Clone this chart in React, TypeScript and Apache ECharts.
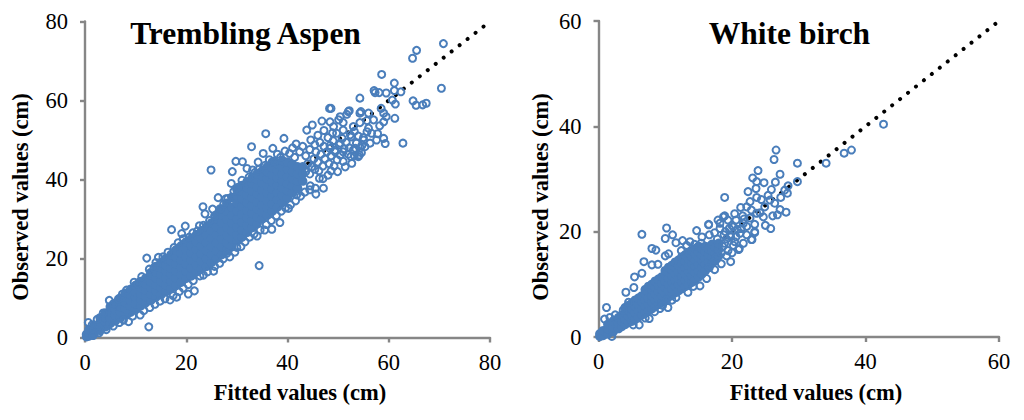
import React, { useEffect, useRef } from "react";
import * as echarts from "echarts";

const aspenTitle = "Trembling Aspen";
const birchTitle = "White birch";
const xName = "Fitted values (cm)";
const yName = "Observed values (cm)";
const aspenTicks = [0, 20, 40, 60, 80];
const birchTicks = [0, 20, 40, 60];
const aspenMax = 80;
const birchMax = 60;

// Rows: [fitted, observed, observed, ...] for the solid body of the cloud
const aspenCore: number[][] = [
  [0.3, 0.2, 0.8], [0.8, 0.4, 1.2, 2], [1.8, 1, 2, 3], [3, 1.8, 3, 4, 5], [4, 2.7, 4, 5, 6.2],
  [5, 3.6, 5, 6.4, 7.8], [6, 4.2, 5.6, 7, 8.5], [7, 5, 6.4, 7.8, 9.2, 10], [8, 5.8, 7.3, 8.8, 10.3, 11.2],
  [9, 6.4, 8, 9.4, 10.8, 12.2], [10, 7.2, 8.6, 10.2, 11.6, 13.2], [11, 8, 9.5, 11, 12.6, 14.2],
  [12, 8.8, 10.4, 12, 13.5, 15], [13, 9.4, 11, 12.6, 14.2, 15.8, 16.4], [14, 10.2, 11.8, 13.4, 15, 16.6, 18],
  [15, 10.8, 12.6, 14.2, 16, 17.6, 19], [16, 11.6, 13.4, 15, 16.8, 18.4, 20], [17, 12.4, 14.2, 16, 17.6, 19.4, 21],
  [18, 13.2, 15, 16.8, 18.6, 20.4, 22.2], [19, 14, 16, 17.8, 19.6, 21.4, 23.2], [20, 15, 16.8, 18.6, 20.4, 22.2, 24.2],
  [21, 15.6, 17.6, 19.6, 21.4, 23.2, 25], [22, 16.6, 18.4, 20.4, 22.4, 24.2, 26], [23, 17.4, 19.4, 21.2, 23.2, 25, 27],
  [24, 18, 20, 22, 24, 26, 28], [25, 19, 21, 23, 25, 27, 29], [26, 20, 22, 24, 26, 28, 30, 31],
  [27, 21, 23, 25, 27, 29, 31, 32.5], [28, 22, 24, 26, 28, 30, 32, 34], [29, 23, 25, 27, 29, 31, 33, 35.5],
  [30, 24.4, 26, 28, 30, 32, 34, 36, 37.5], [31, 25.4, 27.2, 29.2, 31.2, 33.2, 35.2, 37, 38.5],
  [32, 26.6, 28.4, 30.4, 32.2, 34.2, 36.2, 38, 39.4], [33, 27.8, 29.6, 31.4, 33.4, 35.4, 37.2, 39, 40.4],
  [34, 28.8, 30.6, 32.6, 34.4, 36.4, 38.2, 40, 41.4], [35, 30, 31.8, 33.6, 35.6, 37.4, 39.2, 41, 42.2],
  [36, 31, 32.8, 34.6, 36.6, 38.4, 40.2, 42, 43.2], [37, 32, 33.8, 35.8, 37.6, 39.4, 41.2, 43, 44.4],
  [38, 33, 35, 36.8, 38.6, 40.4, 42.2, 44], [39, 34.2, 36, 37.8, 39.6, 41.4, 43.2, 44.8],
  [40, 35.4, 37.2, 39, 40.8, 42.6, 44.4], [41, 36.6, 38.4, 40.2, 42, 43.8], [42, 37.8, 39.6, 41.4, 43.2],
  [43, 39.6, 41.4, 43.2],
];

const aspenUpperEdge: number[][] = [
  [0.65, 3.8], [1.4, 3.2], [2.4, 4.6], [3.6, 6.2], [4.8, 9.4], [5.6, 8.6], [6.6, 9.8], [7.4, 11], [8.2, 12], [9.7, 14],
  [10.4, 13.6], [11.2, 15.4], [12.2, 20.1], [12.7, 17.3], [13.6, 17.6], [14.5, 20.3], [14, 19], [15.4, 20.4], [16.4, 21.6],
  [17.1, 27.3], [17.6, 22.8], [18.4, 24], [19.1, 26.3], [19.8, 28.2], [19.4, 25], [20.6, 25.4], [21.3, 26.5], [22.6, 28.3],
  [22.2, 27], [23.3, 33.1], [23.7, 31.3], [23.4, 28.4], [24.6, 29.6], [24.9, 42.4], [25.2, 32.5], [25.6, 30.8], [26.3, 35.4],
  [26.7, 32.6], [27.8, 35.1], [27.4, 33.8], [28.2, 35.2], [28.9, 39], [29.1, 42], [29.8, 44.6], [29.4, 37], [30.2, 38],
  [31.1, 44.5], [31, 39.8], [32, 42.8], [32.4, 40.6], [32.9, 48.3], [33.1, 42.4], [33.6, 41.8], [34.2, 44.4], [34.4, 42.6],
  [35.2, 46.6], [35.7, 51.6], [35.6, 43.6], [36.4, 45], [37.1, 47.9], [37.4, 44.6], [38, 46.4], [38.6, 45.6], [39.3, 50.4],
  [39.5, 47.2], [40.4, 46.6], [41, 48], [41.7, 49], [41.4, 45.6], [42.4, 47], [43, 48.4], [43.8, 52.5], [43.6, 46],
  [44.4, 47.6], [44.9, 53.8], [44.6, 50], [45.4, 48.8], [46, 51.2], [46.8, 54.8], [46.4, 49.4], [47.2, 52.4], [48, 50.6],
  [48.3, 58], [48.6, 58], [48.4, 54.6], [49.1, 53.4], [48.9, 51.8],
];

const aspenLowerEdge: number[][] = [
  [1.6, 0.5], [2.8, 1.2], [4.2, 2], [5.6, 2.9], [6.8, 3.8], [7.6, 4.4], [8.6, 4], [9.4, 5.4], [10.9, 5.7], [11.6, 6.8],
  [12.6, 2.7], [12.8, 7.6], [13.8, 8.4], [14.8, 9.2], [15.8, 9.8], [16.8, 9.5], [17.4, 10.6], [18.1, 10.2], [18.6, 11.6],
  [19.4, 12.5], [20.4, 11], [20.4, 13.4], [21.6, 11.8], [21.4, 14.4], [22.7, 15.6], [23.4, 15.8], [24.2, 16.6], [25.4, 16.8],
  [25.6, 18], [26.6, 18.8], [27.3, 19.9], [28, 21.3], [28.6, 20.4], [29.6, 21.6], [30, 22.8], [30.8, 23], [31.6, 24.2],
  [32.5, 25.4], [33.4, 26.2], [34, 25.7], [34.4, 18.2], [34.6, 27.2], [35.5, 27.2], [35.8, 28.6], [36.9, 27.4], [36.8, 29.6],
  [37.8, 30.8], [38.5, 29.1], [38.8, 32], [39.6, 32.8], [40.2, 32.7], [40.6, 33.6], [41.8, 36.1], [41.6, 34.6], [42.6, 35.8],
  [43.4, 36.8], [44.5, 38.4], [44.4, 37.4], [45.5, 37.8], [45.6, 36.3], [46.3, 40.3], [47.1, 37.8], [47, 40.2], [48, 41.1],
  [48.6, 42.2], [49.9, 42], [51.4, 43.2], [52.7, 44.1], [54, 45.8], [55.3, 48.3],
];

const aspenUpperTail: number[][] = [
  [43.6, 42], [44, 44], [44.4, 41.4], [44.8, 43.2], [45.2, 45.2], [45.4, 42.6], [45.6, 47], [46, 44.4], [46.2, 42.2], [46.6, 46.4],
  [47, 43.4], [47.2, 48.4], [47.4, 45.2], [47.8, 47], [48.2, 44], [48.4, 48.6], [48.6, 46], [49, 49.8], [49.2, 43.4], [49.4, 47.4],
  [49.8, 45], [50.2, 48.8], [50.4, 46.2], [50.8, 50.4], [51, 44.6], [51.2, 47.8], [51.6, 49.4], [52, 46.4], [52.2, 48], [52.6, 50.8],
  [53, 47.4], [53.2, 46], [53.6, 49.2], [54, 51], [54.4, 48], [54.6, 46.8], [55, 50],
];

const aspenTail: number[][] = [
  [70.8, 74.4], [65.5, 72.7], [64.7, 70.7], [58.6, 66.6], [61.1, 64.4], [70.4, 63.1], [57.1, 62.5], [58.1, 62], [59.5, 61.9], [61.1, 62.5],
  [62.4, 62.2], [54.3, 60.6], [57.3, 62], [64.8, 59.9], [65.4, 58.8], [66.7, 58.9], [67.4, 59.3], [60.7, 60.1], [61.3, 59.1], [52.2, 57.4],
  [51.7, 56.5], [54.5, 57.2], [56, 56.8], [58.5, 58], [59, 56.8], [59.5, 55.9], [61.2, 55.5], [54.3, 54.4], [55.7, 54.9], [57, 55.1],
  [58.2, 53.6], [59, 54.6], [50.1, 55.1], [51, 54.4], [62.8, 49.2], [59.3, 49.1], [59, 50.4], [57.6, 50], [56.3, 49.2], [56.6, 51.7],
  [55.7, 52.1], [54.7, 48.7], [53.4, 47.9], [52.5, 45.8], [54.2, 46.2], [52.4, 51.3], [51, 52.5], [49.7, 51.7], [50.4, 49.2], [51, 47],
  [49.4, 47], [48.4, 47.9], [54.3, 56.8], [52, 57.2], [50.4, 55.9], [53, 53.4], [56, 53], [57.8, 51.6], [55, 50.6], [53.2, 52.2],
];

const birchCore: number[][] = [
  [0.2, 0.1, 0.6], [0.7, 0.3, 1.2], [1.4, 0.6, 1.6, 2.4], [2.2, 1, 2, 3], [3, 1.6, 2.6, 3.7], [3.5, 2, 3, 4.2], [4, 2.4, 3.4, 4.6, 5.6],
  [4.5, 2.8, 3.9, 5, 6], [5, 3, 4.2, 5.3, 6.4], [5.5, 3.4, 4.6, 5.8, 7], [6, 3.8, 5, 6.2, 7.4], [6.5, 4.2, 5.4, 6.6, 7.8], [7, 4.6, 5.8, 7, 8.2, 9],
  [7.5, 5, 6.2, 7.4, 8.6, 9.6], [8, 5.4, 6.6, 7.8, 9, 10], [8.5, 5.8, 7, 8.2, 9.4, 10.6], [9, 6.2, 7.4, 8.6, 9.8, 11],
  [9.5, 6.6, 7.8, 9, 10.2, 11.4], [10, 7, 8.2, 9.4, 10.6, 11.8, 12.6], [10.5, 7.6, 8.8, 10, 11.2, 12.4, 13.2], [11, 8, 9.2, 10.4, 11.6, 12.8, 13.6],
  [11.5, 8.4, 9.6, 10.8, 12, 13.2, 14.2], [12, 8.8, 10, 11.2, 12.4, 13.6, 14.6], [12.5, 9.2, 10.4, 11.6, 12.8, 14, 15.2], [13, 9.6, 10.8, 12, 13.2, 14.4, 15.6],
  [13.5, 10, 11.2, 12.4, 13.6, 14.8, 16], [14, 10.4, 11.6, 12.8, 14, 15.2, 16.4], [14.5, 11, 12.2, 13.4, 14.6, 15.8, 16.8], [15, 11.4, 12.6, 13.8, 15, 16.2, 17.2],
  [15.5, 12, 13.2, 14.4, 15.6, 16.8], [16, 12.6, 13.8, 15, 16.2, 17.2], [16.5, 13.2, 14.4, 15.6, 16.8], [17, 14, 15.2, 16.4, 17.6],
  [17.5, 14.6, 15.8, 17], [18, 15.4, 16.6, 17.8],
];

const birchEdge: number[][] = [
  [6.5, 19.5], [10.2, 20.7], [10, 18.7], [11.1, 19.4], [11.6, 17.9], [8, 16.8], [8.6, 16.5], [6.8, 14.3], [8, 13.7], [8.9, 13.8],
  [10, 15.4], [10.5, 15.8], [6.5, 12.1], [5.4, 11.4], [5.3, 9.4], [4.1, 8.5], [4.5, 6.6], [1.2, 5.6], [0.9, 3.4], [1.7, 3.7],
  [2.5, 4.2], [3.7, 5.1], [16.5, 21.4], [14.7, 20.2], [12.6, 18.3], [13.7, 18.1], [15.5, 19], [18.9, 23], [17.9, 22.2], [23, 18.5],
  [23.4, 19.8], [21, 16.6], [19.8, 14.3], [18.4, 13.9], [17.4, 12.8], [16.2, 11.1], [15.2, 9.7], [13.4, 8.5], [11.6, 7.5], [10.4, 5.6],
  [9.2, 5.4], [7.6, 3.5], [6.1, 2.3], [5.2, 2.3], [2, 0.1], [11, 7], [10.2, 7], [7, 3.6], [8.4, 4.8], [9.6, 6],
  [12.4, 16.4], [13.2, 17.4], [14.4, 17.6], [15.4, 17.8], [16.6, 19.4], [17.4, 19.8], [18.2, 20.6], [17.8, 18.6], [18.6, 17.2], [19.2, 18.6],
  [19.6, 20.6], [20.6, 22.2], [17.6, 15], [18.4, 16], [19.4, 16.4], [20.2, 17.4], [20.6, 19], [16.6, 13.2], [17.2, 14.2], [14.2, 9.6],
  [19, 20], [19.8, 19], [20, 21.2], [20.8, 20.4], [21.4, 20.6], [21.8, 22.4], [22.2, 21], [19.2, 15.4], [20, 16], [18.8, 19.4],
];

const birchTail: number[][] = [
  [37.9, 35.5], [36.8, 34.9], [34.1, 33], [29.8, 33], [26.6, 35.5], [26.3, 33.7], [23.9, 31.6], [23.1, 30.2], [27.2, 30.9], [23.7, 29.5],
  [24.8, 29.3], [26.5, 29.4], [29.8, 29.5], [28.4, 28.7], [23.6, 28.2], [22.4, 27.6], [18.9, 26.5], [25.9, 28], [27.3, 26.5], [28.3, 27.3],
  [27.9, 27.9], [23.7, 26.5], [24.4, 26.1], [25.4, 26.9], [25.7, 26], [26.4, 25.4], [22.7, 25.7], [21.3, 24.6], [22.2, 24.7], [22.9, 24.1],
  [24.9, 24.7], [28.1, 23.7], [27.2, 24.2], [26.8, 23.2], [26.1, 23], [24.7, 22.8], [23.7, 23.5], [22.7, 22.6], [23.4, 21.4], [25, 21.2],
  [25.8, 20.6], [22.9, 18.5], [16.5, 21.3], [23.4, 20], [21.1, 16.8], [18.7, 22.8], [19.4, 22.2], [18.2, 21.6], [20.2, 20.9], [21.7, 21.6],
  [21.2, 19.7], [19.7, 19.4], [22.2, 19.4], [20.4, 18.1], [18.9, 17.8], [21.7, 17.8], [42.7, 40.4], [20.4, 23.4], [21.6, 23], [24.2, 23.6],
];

const rowsToPoints = (rows: number[][]) => rows.flatMap(([x, ...ys]) => ys.map((y) => [x, y]));

const blue = "#4a7ebb";
const serif = "'Liberation Serif', 'Times New Roman', serif";
const axisGray = "#868686";

function makeAxis(gridIndex: number, max: number, interval: number, margin: number) {
  return {
    gridIndex,
    type: "value",
    min: 0,
    max,
    interval,
    splitLine: { show: false },
    axisLine: { show: true, onZero: false, lineStyle: { color: axisGray, width: 2.4 } },
    axisTick: { show: true, length: 5, lineStyle: { color: axisGray, width: 2.4 } },
    axisLabel: { color: "#000", fontFamily: serif, fontSize: 22.5, margin },
  };
}

function makeSeries(index: number, max: number, core: number[][], rings: number[][]) {
  return [
    {
      type: "line", xAxisIndex: index, yAxisIndex: index, data: [[0, 0], [max, max]], symbol: "none", silent: true,
      lineStyle: { color: "#000", width: 4, type: [0.01, 10.1], cap: "round" }, z: 1,
    },
    {
      type: "scatter", xAxisIndex: index, yAxisIndex: index, data: rowsToPoints(core), symbol: "circle", symbolSize: 9.5,
      itemStyle: { color: blue, opacity: 1 }, z: 2,
    },
    {
      type: "scatter", xAxisIndex: index, yAxisIndex: index, data: rings, symbol: "circle", symbolSize: 7,
      itemStyle: { color: "rgba(255,255,255,0)", borderColor: blue, borderWidth: 2, opacity: 1 }, z: 3,
    },
  ];
}

function axisNameText(text: string, x: number, y: number, rotation = 0) {
  return {
    type: "text", x, y, rotation,
    style: { text, fill: "#000", font: `bold 22.5px ${serif}`, textAlign: "center", textVerticalAlign: "middle" },
  };
}

export default function App() {
  const ref = useRef<HTMLDivElement>(null);
  useEffect(() => {
    const chart = echarts.init(ref.current!, undefined, { renderer: "svg" });
    chart.setOption({
      animation: false,
      backgroundColor: "#fff",
      title: [
        { text: aspenTitle, left: 240.5, top: 12, textAlign: "center", textStyle: { fontFamily: serif, fontSize: 31.5, fontWeight: "bold", color: "#000" } },
        { text: birchTitle, left: 784.5, top: 12, textAlign: "center", textStyle: { fontFamily: serif, fontSize: 31.5, fontWeight: "bold", color: "#000" } },
      ],
      grid: [
        { left: 85, top: 21.5, width: 405, height: 316 },
        { left: 598.5, top: 21, width: 400.5, height: 316 },
      ],
      xAxis: [makeAxis(0, aspenMax, aspenTicks[1], 13), makeAxis(1, birchMax, birchTicks[1], 13)],
      yAxis: [makeAxis(0, aspenMax, aspenTicks[1], 17), makeAxis(1, birchMax, birchTicks[1], 17)],
      series: [
        ...makeSeries(0, aspenMax, aspenCore, [...aspenUpperEdge, ...aspenLowerEdge, ...aspenUpperTail, ...aspenTail]),
        ...makeSeries(1, birchMax, birchCore, [...birchEdge, ...birchTail]),
      ],
      graphic: [
        axisNameText(xName, 300, 392),
        axisNameText(xName, 816, 392),
        axisNameText(yName, 20, 197, Math.PI / 2),
        axisNameText(yName, 540, 197, Math.PI / 2),
      ],
    });
    return () => chart.dispose();
  }, []);
  return <div ref={ref} style={{ position: "absolute", left: 0, top: 0, width: 1024, height: 420 }} />;
}
